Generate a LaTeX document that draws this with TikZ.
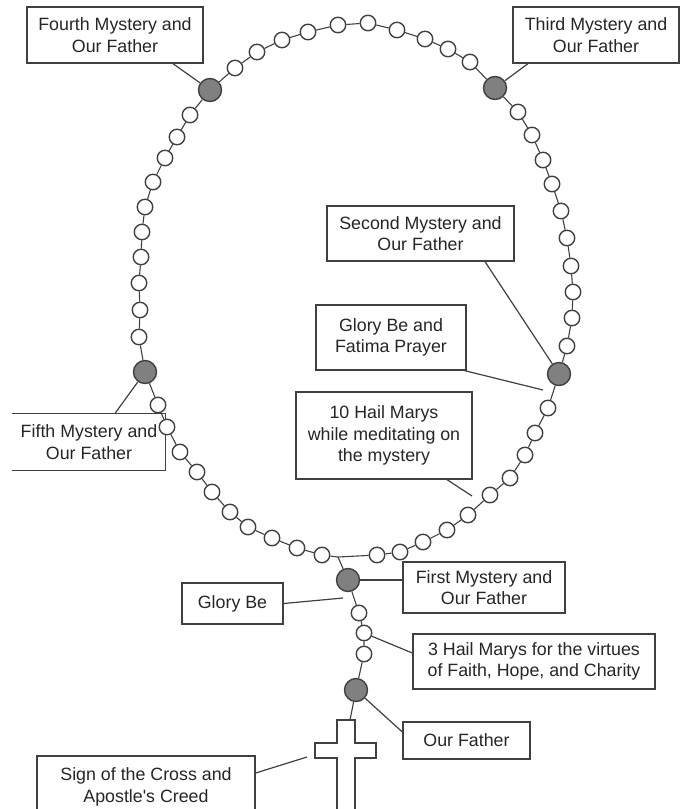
\documentclass[tikz,border=0pt]{standalone}
\usepackage{fontspec}
\setmainfont{Liberation Sans}
\usetikzlibrary{positioning}
\definecolor{inkgray}{RGB}{64,64,64}
\definecolor{beadgray}{RGB}{128,128,128}
\tikzset{
  every picture/.append style={line width=1.2pt},
}

\begin{document}
\begin{tikzpicture}[
  x=1pt, y=-1pt,
  txt/.style={align=center, inner sep=0pt, text=black!85, font=\fontsize{17.8}{21.5}\selectfont},
  lbl/.style={txt, draw=inkgray, line width=1.3pt, fill=white},
  bead/.style={circle, draw=inkgray, line width=1.4pt, fill=white, minimum size=15.5pt, inner sep=0pt},
  paterbead/.style={bead, fill=beadgray, minimum size=23pt},
  chain/.style={draw=inkgray, line width=1.1pt},
  leader/.style={draw=inkgray, line width=1.2pt}
]
\useasboundingbox (0,0) rectangle (686,809);

% --- labels ---
\node[lbl, minimum width=176pt, minimum height=56pt] (fourth) at (115,35) {Fourth Mystery and\\Our Father};
\node[lbl, minimum width=166pt, minimum height=56pt] (third) at (596,35) {Third Mystery and\\Our Father};
\node[lbl, minimum width=187pt, minimum height=55pt] (second) at (420.5,233.5) {Second Mystery and\\Our Father};
\node[lbl, minimum width=150pt, minimum height=65pt] (fatima) at (391,337.5) {Glory Be and\\Fatima Prayer};
\node[lbl, minimum width=176pt, minimum height=87pt] (decade) at (384,435.5) {10 Hail Marys\\while meditating on\\the mystery};
\node[txt, minimum width=152pt, minimum height=56pt] (fifth) at (89,442) {Fifth Mystery and\\Our Father};
\draw[inkgray, line width=1.3pt] (fifth.north west) -- (fifth.north east) -- (fifth.south east) -- (fifth.south west);
\node[lbl, minimum width=162pt, minimum height=51pt] (first) at (484,587.5) {First Mystery and\\Our Father};
\node[lbl, minimum width=101pt, minimum height=41pt] (glory) at (232.5,603.5) {Glory Be};
\node[lbl, minimum width=242pt, minimum height=55pt] (virtues) at (534,661.5) {3 Hail Marys for the virtues\\of Faith, Hope, and Charity};
\node[lbl, minimum width=127pt, minimum height=37pt] (ofather) at (466.5,740.5) {Our Father};
\node[lbl, minimum width=218pt, minimum height=62pt] (creed) at (146,787) {Sign of the Cross and\\Apostle\textquotesingle s Creed};

% --- the loop: 5 decades, starting right of the junction ---
\foreach \x/\y [count=\i] in {
  377/555,400/552,423/542,447/530,468/515,490/495,510/478,525/455,535/433,548/408,
  559/374,
  567/346,572/318,573/292,571/266,567/238,561/211,552/184,543/160,532/135,518/112,
  495/88,
  470/62,448/49,425/39,397/30,368/23,338/25,308/32,282/40,257/52,235/68,
  210/90,
  190/115,177/137,165/158,153/182,145/207,142/232,141/257,139/283,140/310,139/337,
  145/372,
  158/405,167/427,180/452,197/472,212/492,230/512,248/527,272/538,297/548,322/555}
  \node[bead] (b\i) at (\x,\y) {};
\foreach \i in {11,22,33,44}
  \node[paterbead] (b\i) at (b\i) {};
\foreach \i [remember=\i as \j (initially 1)] in {2,...,54}
  \draw[chain] (b\j) -- (b\i);

% --- pendant ---
\coordinate (jn) at (338,557);
\node[paterbead] (pf1) at (348,580) {};
\node[bead] (hm1) at (359,613) {};
\node[bead] (hm2) at (364,633) {};
\node[bead] (hm3) at (364,654) {};
\node[paterbead] (pf0) at (356,690) {};
\coordinate (crosstop) at (350,720);
\draw[chain] (b54) -- (jn) -- (b1);
\draw[chain] (jn) -- (pf1) -- (hm1) -- (hm2) -- (hm3) -- (pf0) -- (crosstop);
\draw[inkgray, line width=1.3pt, fill=white] (337,720) -- (355,720) -- (355,743) -- (376,743)
  -- (376,758) -- (355,758) -- (355,830) -- (337,830) -- (337,758) -- (315,758)
  -- (315,743) -- (337,743) -- cycle;

% --- leaders ---
\coordinate (fatimapt) at (543,390);
\coordinate (decadept) at (472,496);
\coordinate (glorypt) at (343,598);
\coordinate (creedpt) at (307,757);
\draw[leader] ([xshift=58pt]fourth.south) -- (b33);
\draw[leader] ([xshift=-68pt]third.south) -- (b22);
\draw[leader] ([xshift=64.5pt]second.south) -- (b11);
\draw[leader] ([xshift=-2pt]fatima.south east) -- (fatimapt);
\draw[leader] ([xshift=63pt]decade.south) -- (decadept);
\draw[leader] ([xshift=26pt]fifth.north) -- (b44);
\draw[leader] (pf1) -- (pf1 -| first.west);
\draw[leader] (glory.east) -- (glorypt);
\draw[leader] ([yshift=8.5pt]virtues.west) -- (hm2);
\draw[leader] ([yshift=8.5pt]ofather.west) -- (pf0);
\draw[leader] ([yshift=14pt]creed.east) -- (creedpt);

\end{tikzpicture}
\end{document}
